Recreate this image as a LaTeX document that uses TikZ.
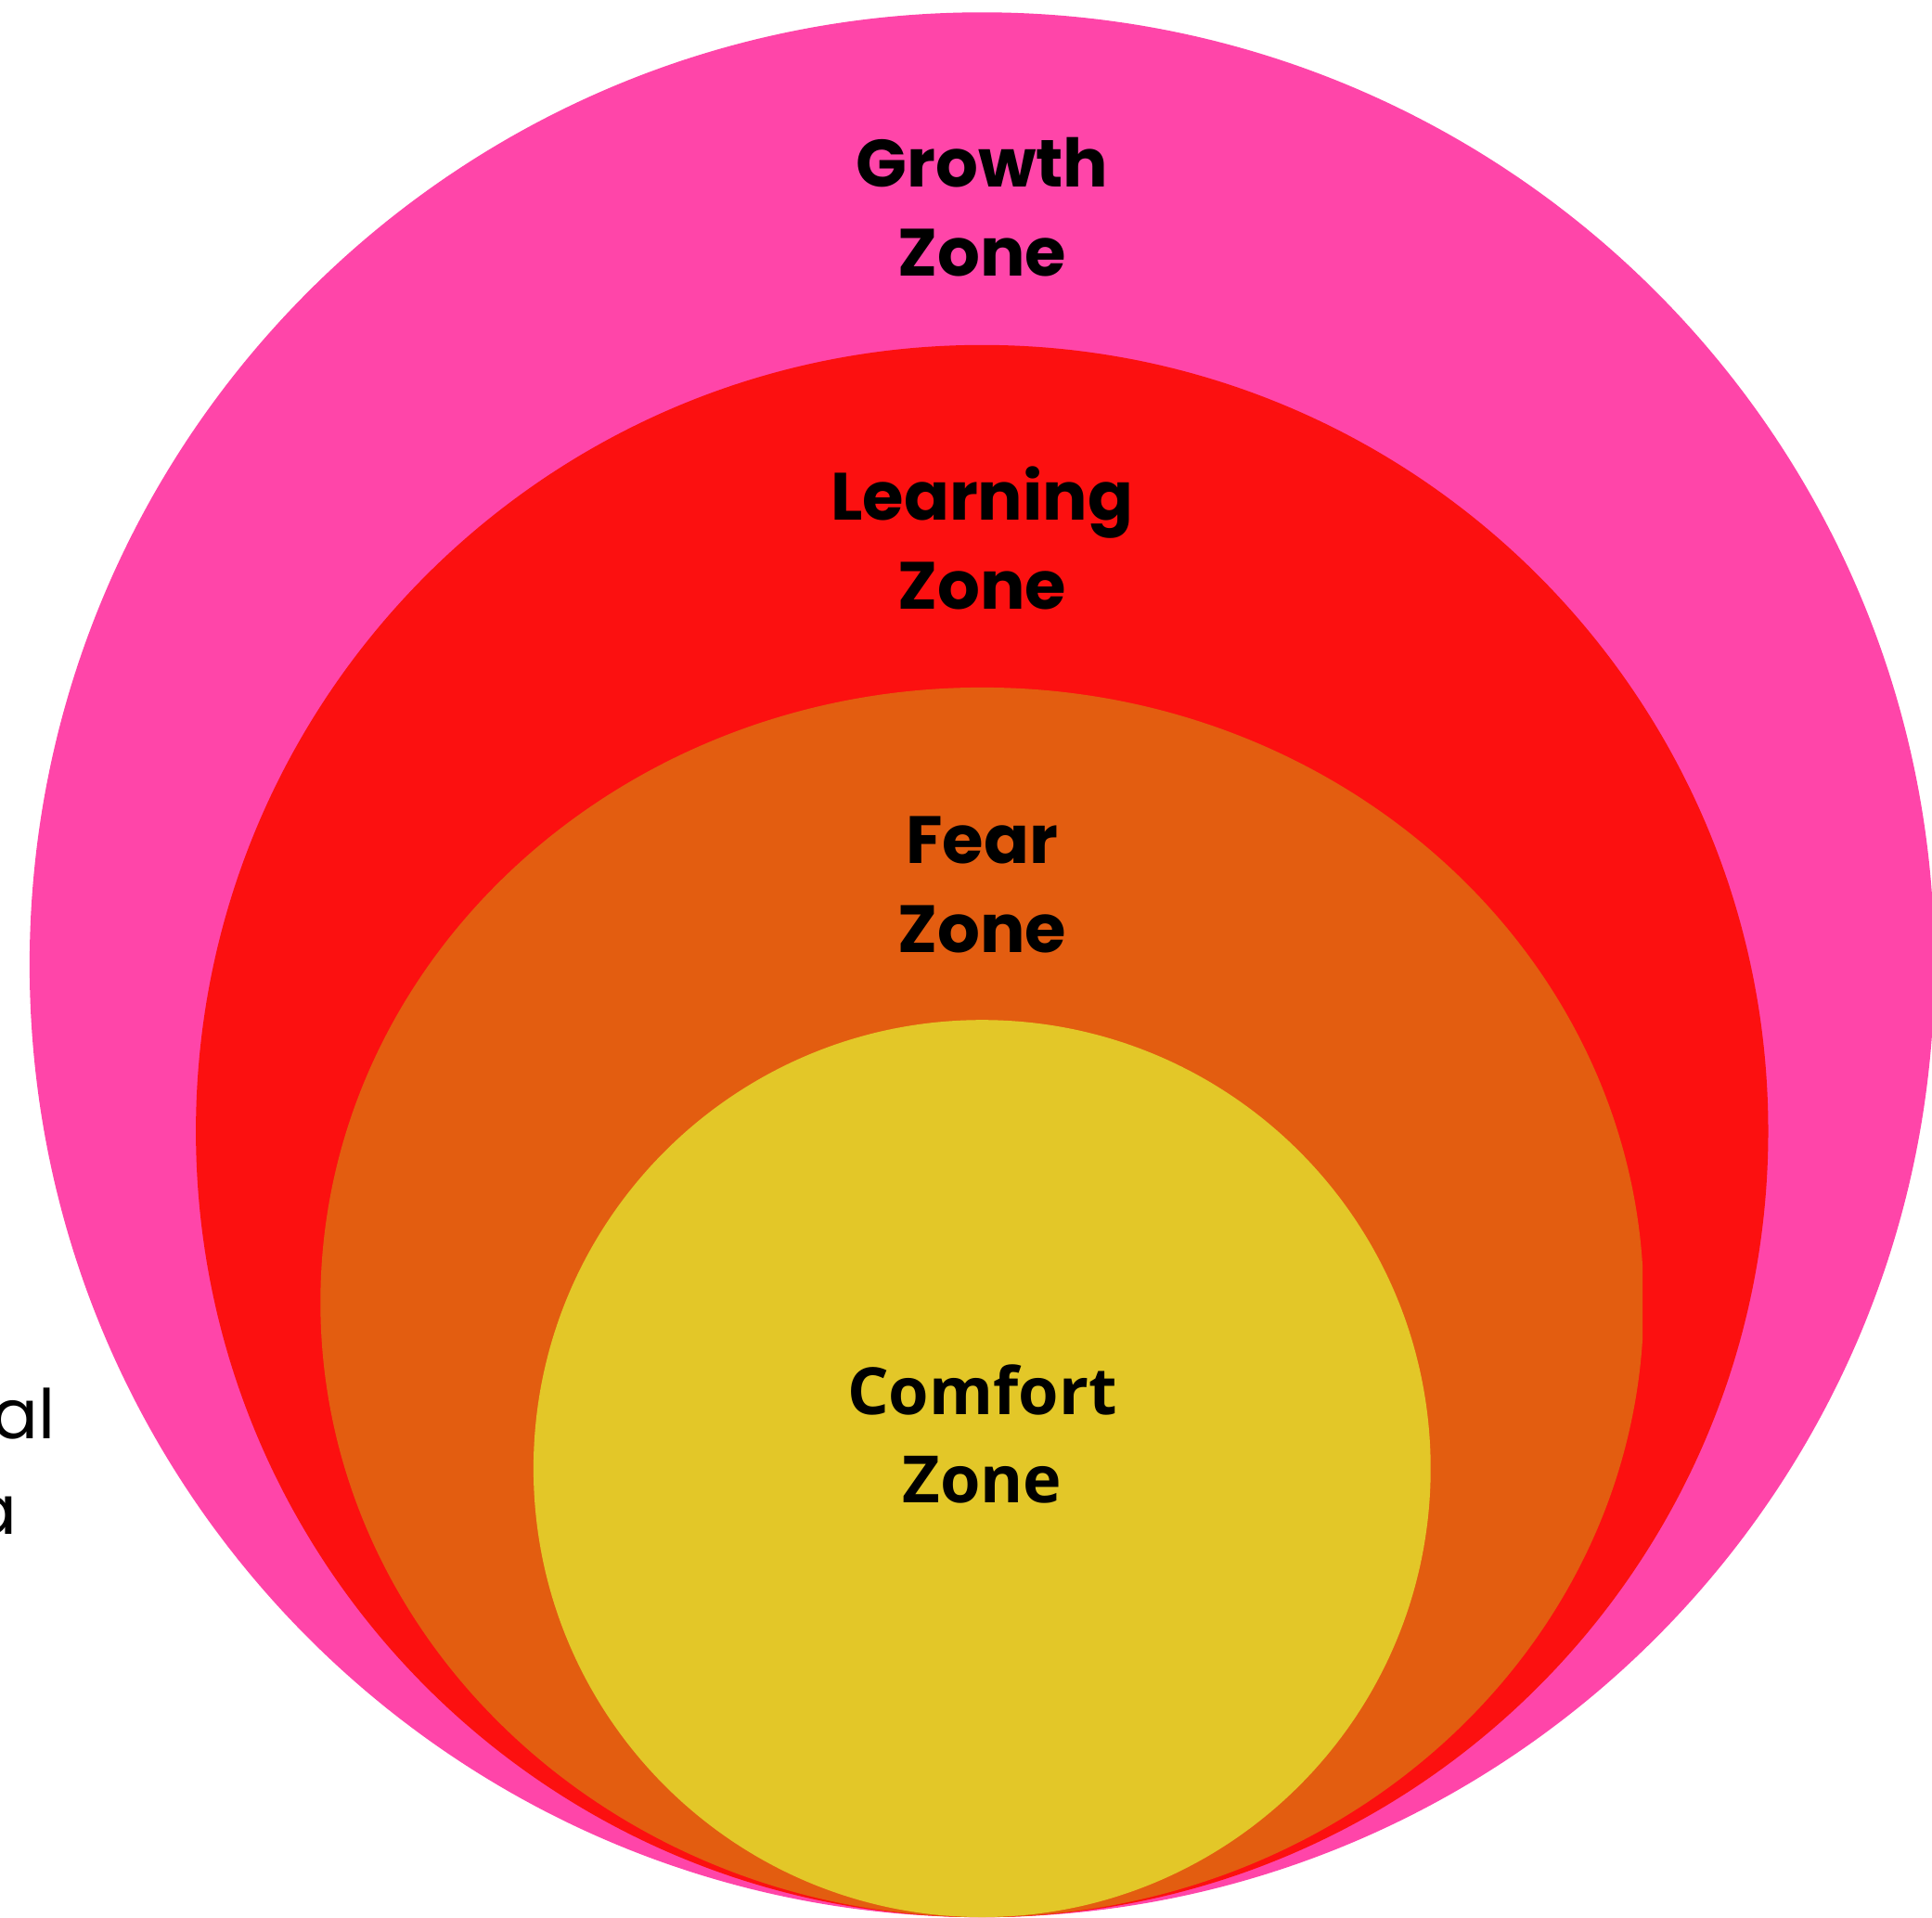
\documentclass[tikz,border=0pt]{standalone}
\usepackage{fontspec}
\usepackage{xcolor}
\usepackage{tikz}
\newfontfamily\zonefont{Poppins}
\newfontfamily\comfortfont{Open Sans}
\newfontfamily\notefont{Poppins}
\definecolor{growthpink}{HTML}{FF45A9}
\definecolor{learnred}{HTML}{FC1010}
\definecolor{fearorange}{HTML}{E35D10}
\definecolor{comfortyellow}{HTML}{E3C728}
\tikzset{
  zone/.style   ={draw=none},
  zonelbl/.style={anchor=base, inner sep=0pt, text=black,
                  font=\zonefont\bfseries\fontsize{20.5}{26}\selectfont},
  comflbl/.style={anchor=base, inner sep=0pt, text=black,
                  font=\comfortfont\bfseries\fontsize{20}{26}\selectfont},
  note/.style   ={anchor=base east, inner sep=0pt, text=black,
                  font=\notefont\fontsize{21}{26}\selectfont},
}
\begin{document}
\begin{tikzpicture}
\useasboundingbox (0,0) rectangle (20.82,20.66);

% nested zones, outermost first
\fill[zone, growthpink] (10.583,10.263) circle (10.264);
\fill[zone, learnred] (10.583,8.470) circle (8.472);
\begin{scope}
  \clip (0,0) rectangle (17.70,20.66);
  \fill[zone, fearorange] (10.583,6.625) ellipse [x radius=7.13, y radius=6.626];
\end{scope}
\fill[zone, comfortyellow] (10.583,4.834) circle (4.834);

% zone labels
\foreach \name/\y/\word in {growth/18.642/Growth, learning/15.057/Learning, fear/11.352/Fear}{
  \node[zonelbl] (\name) at (10.583,\y) {\word};
  \node[zonelbl] (\name-z) at (10.583,\y-0.96) {Zone};
}
\node[comflbl] (comfort) at (10.583,5.417) {Comfort};
\node[comflbl] (comfort-z) at (10.583,4.461) {Zone};

% side note, running off the left edge
\node[note] (note1) at (0.60,5.16) {al};
\node[note] (note2) at (0.19,4.13) {a};
\end{tikzpicture}
\end{document}
